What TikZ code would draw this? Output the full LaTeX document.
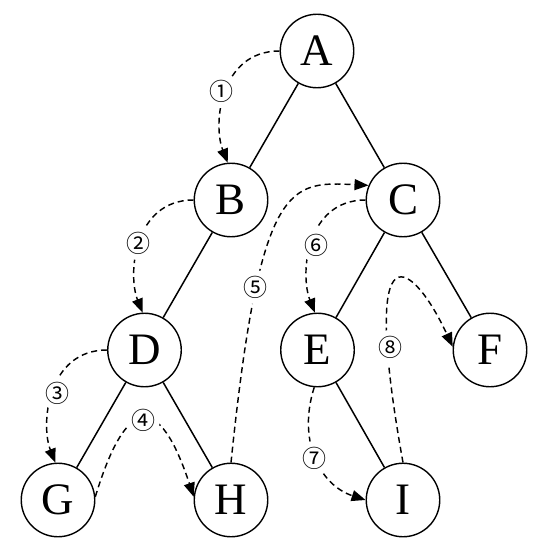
\documentclass[tikz,border=0pt]{standalone}
\usepackage{fontspec}
\setmainfont{Liberation Serif}
\newfontfamily\circfont{Noto Sans CJK SC}
\usetikzlibrary{arrows.meta}
\begin{document}
\begin{tikzpicture}[x=1pt,y=-1pt,
  vert/.style={circle,draw,line width=1.4pt,minimum size=73.5pt,inner sep=0pt,
    font=\fontsize{45}{45}\selectfont},
  edge/.style={line width=1.5pt},
  trav/.style={line width=1.45pt,dash pattern=on 6pt off 4pt,
    -{Triangle[length=14pt,width=11pt]}},
  lbl/.style={circle,fill=white,minimum size=34pt,inner sep=0pt,
    font=\circfont\fontsize{24}{24}\selectfont}]
\useasboundingbox (0,0) rectangle (538,553);
% vertices
\node[vert] (A) at (317,51) {A};
\node[vert] (B) at (231,200) {B};
\node[vert] (C) at (403,200) {C};
\node[vert] (D) at (144.5,350) {D};
\node[vert] (E) at (317.5,350) {E};
\node[vert] (F) at (490,350) {F};
\node[vert] (G) at (58,500) {G};
\node[vert] (H) at (231,500) {H};
\node[vert] (I) at (403,500) {I};
% tree edges
\draw[edge] (A) -- (B);
\draw[edge] (A) -- (C);
\draw[edge] (B) -- (D);
\draw[edge] (C) -- (E);
\draw[edge] (C) -- (F);
\draw[edge] (D) -- (G);
\draw[edge] (D) -- (H);
\draw[edge] (E) -- (I);
% traversal
\draw[trav] (A.west) .. controls +(-60,0) and +(-15,-38) .. (B.95);
\draw[trav] (B.west) .. controls +(-60,0) and +(-15,-38) .. (D.93);
\draw[trav] (D.west) .. controls +(-60,0) and +(-15,-38) .. (G.94);
\draw[trav] (G.5) .. controls +(31.5,-103.6) and +(-34.2,-103.6) .. (H.175);
\draw[trav] (H.north) .. controls +(29,-283) and +(-79,-4) .. (C.157);
\draw[trav] (C.west) .. controls +(-60,0) and +(-15,-38) .. (E.94);
\draw[trav] (E.265) .. controls +(-17,53) and +(-46,-15) .. (I.west);
\draw[trav] (I.north) .. controls +(-45,-250) and +(-38,-82) .. (F.175);
% step labels
\node[lbl] (n1) at (221,91) {①};
\node[lbl] (n2) at (138,243) {②};
\node[lbl] (n3) at (57,393) {③};
\node[lbl] (n4) at (143,420) {④};
\node[lbl] (n5) at (255,287) {⑤};
\node[lbl] (n6) at (316,245) {⑥};
\node[lbl] (n7) at (314,458) {⑦};
\node[lbl] (n8) at (390,347) {⑧};
\end{tikzpicture}
\end{document}
